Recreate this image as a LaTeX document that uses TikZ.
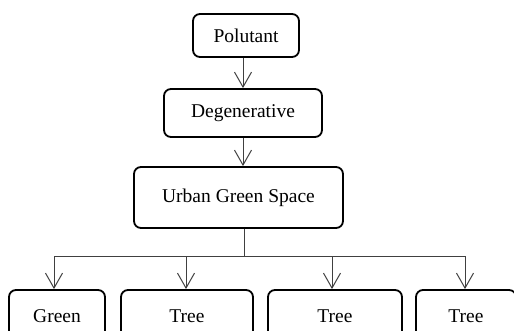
\documentclass[tikz,border=0pt]{standalone}
\usepackage{fontspec}
\setmainfont{Liberation Serif}
\usetikzlibrary{arrows.meta}
\begin{document}
\begin{tikzpicture}[x=1pt,y=-1pt,
  box/.style={draw=black,line width=1.8pt,rounded corners=7pt,inner sep=0pt,
    font=\fontsize{19.5}{23}\selectfont},
  arr/.style={draw=black!75,line width=1pt,-{Straight Barb[length=15pt,width=17pt,line width=1pt]}},
  ln/.style={draw=black!75,line width=1pt}]
\useasboundingbox (0,0) rectangle (514,330);
\node[box,minimum width=106pt,minimum height=43pt] (pol) at (246,35.5) {Polutant};
\node[box,minimum width=158pt,minimum height=48pt] (deg) at (243,113) {Degenerative};
\node[box,minimum width=209pt,minimum height=61pt] (ugs) at (238.5,197.5) {Urban Green Space};
\node[box,minimum width=96pt,minimum height=52pt] (b1) at (57,316) {Green};
\node[box,minimum width=132pt,minimum height=52pt] (b2) at (187,316) {Tree};
\node[box,minimum width=134pt,minimum height=52pt] (b3) at (335,316) {Tree};
\node[box,minimum width=100pt,minimum height=52pt] (b4) at (466,316) {Tree};
\coordinate (hub) at (244,256);
\draw[arr] (pol.south -| deg.north) -- (deg.north);
\draw[arr] (deg.south) -- (deg.south |- ugs.north);
\draw[ln] (ugs.south -| hub) -- (hub);
\draw[arr] (hub) -| ([xshift=-3pt]b1.north);
\draw[arr] (hub) -| ([xshift=-1pt]b2.north);
\draw[arr] (hub) -| ([xshift=-3pt]b3.north);
\draw[arr] (hub) -| ([xshift=-1pt]b4.north);
\end{tikzpicture}
\end{document}
